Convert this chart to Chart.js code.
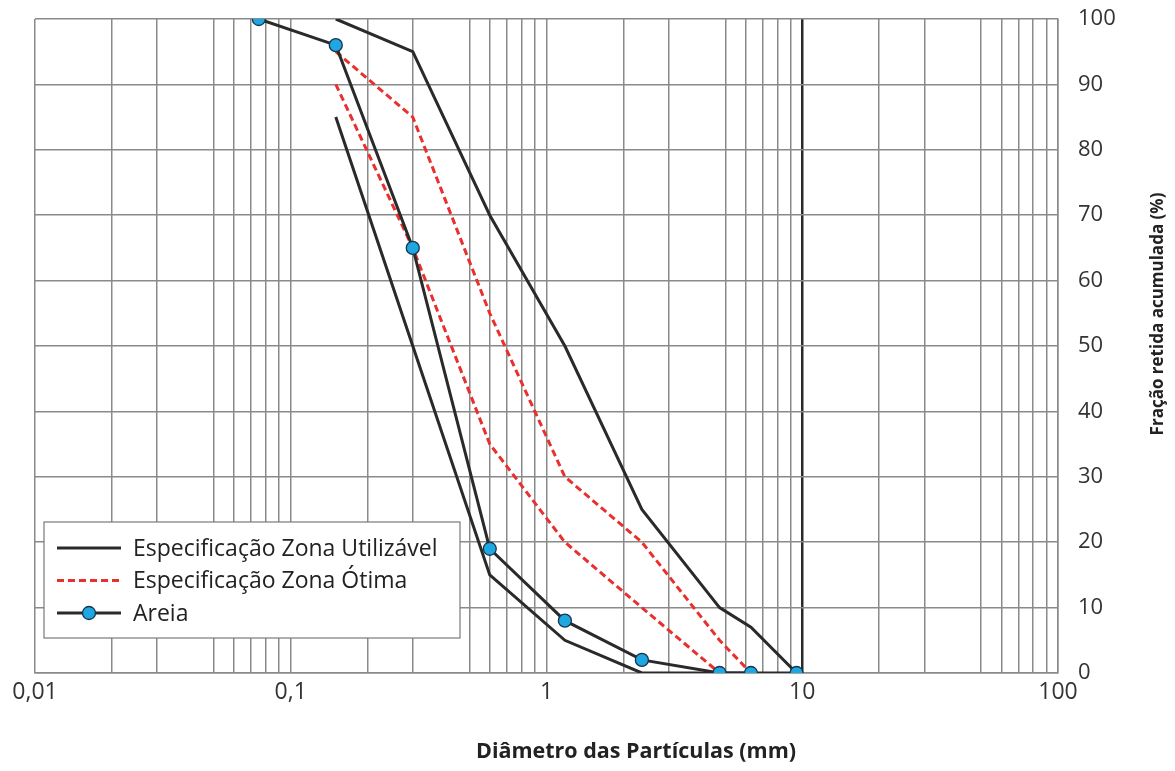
<!DOCTYPE html>
<html>
<head>
<meta charset="utf-8">
<script src="https://cdn.jsdelivr.net/npm/chart.js@4"></script>
<style>
  html, body { margin: 0; padding: 0; background: #fff; }
  #box { width: 1175px; height: 771px; }
</style>
</head>
<body>
<div id="box"><canvas id="grafico"></canvas></div>
<script>
// aberturas das peneiras (mm)
const peneiras = [0.075, 0.15, 0.3, 0.6, 1.18, 2.36, 4.75, 6.3, 9.5];

// fração retida acumulada (%)
const areia = [100, 96, 65, 19, 8, 2, 0, 0, 0];

const utilSupX = [0.15, 0.3, 0.6, 1.18, 2.36, 4.75, 6.3, 9.5];
const utilSupY = [100, 95, 70, 50, 25, 10, 7, 0];
const utilInfX = [0.15, 0.3, 0.6, 1.18, 2.36, 4.75, 6.3];
const utilInfY = [85, 50, 15, 5, 0, 0, 0];

const otimaSupX = [0.15, 0.3, 0.6, 1.18, 2.36, 4.75, 6.3];
const otimaSupY = [95, 85, 55, 30, 20, 5, 0];
const otimaInfX = [0.15, 0.3, 0.6, 1.18, 2.36, 4.75];
const otimaInfY = [90, 65, 35, 20, 10, 0];

// linhas verticais da grade e rótulos
const decadas = [0.01, 0.1, 1, 10, 100];
const rotulosX = ['0,01', '0,1', '1', '10', '100'];
const mult = [1, 2, 3, 5, 6, 7, 8, 9];
const gradeX = [];
[0.01, 0.1, 1, 10].forEach(d => mult.forEach(m => gradeX.push(+(d * m).toPrecision(3))));
gradeX.push(100);

const pts = (xs, ys) => xs.map((x, i) => ({ x: x, y: ys[i] }));

const preto = '#2a2a2a';
const vermelho = '#e8302e';
const azul = '#1ea7e1';
const fonte = '"Open Sans", sans-serif';

const legendaItens = [
    { texto: 'Especificação Zona Utilizável', cor: preto, dash: [], ponto: false },
    { texto: 'Especificação Zona Ótima', cor: vermelho, dash: [7, 4], ponto: false },
    { texto: 'Areia', cor: preto, dash: [], ponto: true }
];

// legenda dentro da área do gráfico + títulos dos eixos
const extras = {
    id: 'extras',
    afterDraw(chart) {
        const c = chart.ctx;
        c.save();
        c.fillStyle = '#fff';
        c.strokeStyle = '#7a7a7a';
        c.lineWidth = 1.2;
        c.fillRect(44, 522, 416, 116);
        c.strokeRect(44, 522, 416, 116);
        c.font = '23px ' + fonte;
        c.textBaseline = 'middle';
        legendaItens.forEach((it, i) => {
            const y = 548 + i * 32.5;
            c.strokeStyle = it.cor;
            c.lineWidth = 3;
            c.setLineDash(it.dash);
            c.beginPath(); c.moveTo(57, y); c.lineTo(121, y); c.stroke();
            c.setLineDash([]);
            if (it.ponto) {
                c.beginPath(); c.arc(89, y, 6.5, 0, Math.PI * 2);
                c.fillStyle = azul; c.fill();
                c.strokeStyle = '#17344f'; c.lineWidth = 1.3; c.stroke();
            }
            c.fillStyle = '#222';
            c.fillText(it.texto, 133, y + 1);
        });
        c.textAlign = 'center';
        c.fillStyle = '#222';
        c.font = 'bold 21.5px ' + fonte;
        c.fillText('Diâmetro das Partículas (mm)', 636, 752);
        c.translate(1158, 314);
        c.rotate(-Math.PI / 2);
        c.font = 'bold 17px ' + fonte;
        c.fillText('Fração retida acumulada (%)', 0, 0);
        c.restore();
    }
};

const linha = (dados, cor, dash) => ({
    data: dados,
    borderColor: cor,
    borderWidth: 3,
    borderDash: dash,
    pointRadius: 0,
    fill: false,
    tension: 0
});

new Chart(document.getElementById('grafico'), {
    type: 'line',
    data: {
        datasets: [
            {
                data: pts(peneiras, areia),
                borderColor: preto,
                borderWidth: 3,
                pointRadius: 6.5,
                pointBackgroundColor: azul,
                pointBorderColor: '#17344f',
                pointBorderWidth: 1.3,
                fill: false,
                tension: 0
            },
            linha(pts(otimaSupX, otimaSupY), vermelho, [7, 4]),
            linha(pts(otimaInfX, otimaInfY), vermelho, [7, 4]),
            linha(pts(utilSupX, utilSupY), preto, []),
            linha(pts(utilInfX, utilInfY), preto, [])
        ]
    },
    options: {
        responsive: true,
        maintainAspectRatio: false,
        animation: false,
        layout: { padding: { left: 35, top: 19, right: 0, bottom: 0 } },
        plugins: { legend: { display: false }, tooltip: { enabled: false } },
        scales: {
            x: {
                type: 'logarithmic',
                min: 0.01,
                max: 100,
                afterBuildTicks: s => { s.ticks = gradeX.map(v => ({ value: v })); },
                afterFit: s => { s.height = 98; s.paddingLeft = 0; s.paddingRight = 0; },
                ticks: {
                    autoSkip: false,
                    maxRotation: 0,
                    padding: 6,
                    color: '#333',
                    font: { family: fonte, size: 23 },
                    callback: v => {
                        const k = decadas.findIndex(d => Math.abs(d - v) < d * 1e-6);
                        return k >= 0 ? rotulosX[k] : '';
                    }
                },
                grid: {
                    drawTicks: false,
                    color: c => (c.tick && c.tick.value === 10) ? '#2a2a2a' : '#8a8a8a',
                    lineWidth: c => (c.tick && c.tick.value === 10) ? 2.5 : 1.5
                },
                border: { color: '#8a8a8a', width: 1.5 }
            },
            y: {
                position: 'right',
                min: 0,
                max: 100,
                afterFit: s => { s.width = 117; s.paddingTop = 0; s.paddingBottom = 0; },
                ticks: {
                    stepSize: 10,
                    padding: 20,
                    color: '#333',
                    font: { family: fonte, size: 22 }
                },
                grid: { drawTicks: false, color: '#8a8a8a', lineWidth: 1.5 },
                border: { color: '#8a8a8a', width: 1.5 }
            }
        }
    },
    plugins: [extras]
});
</script>
</body>
</html>
